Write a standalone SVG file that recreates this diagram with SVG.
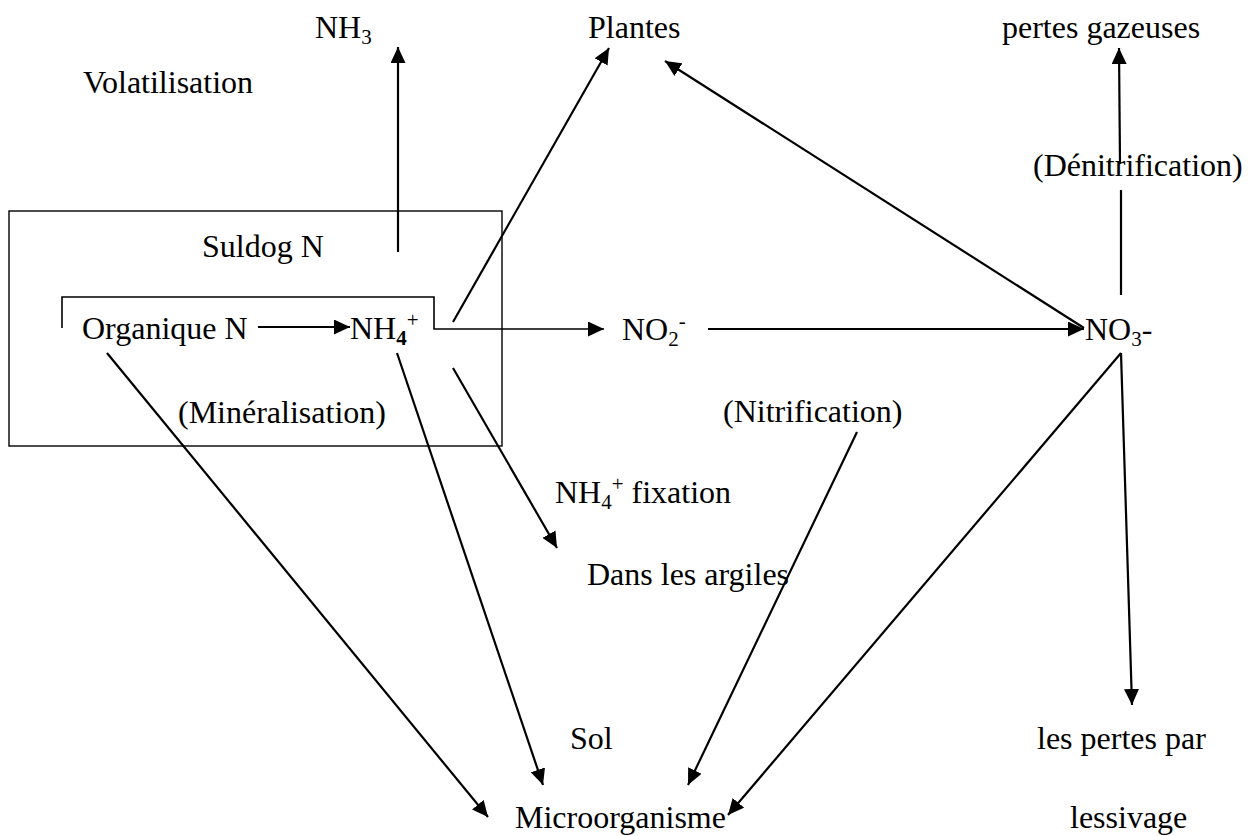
<svg xmlns="http://www.w3.org/2000/svg" width="1249" height="836" viewBox="0 0 1249 836">
<style>
text{font-family:"Liberation Serif","Times New Roman",serif;font-size:32px;fill:#000}
.sub{font-size:21px}
.c line,.c path{stroke:#000;stroke-width:2.2;fill:none}
.box{stroke:#000;stroke-width:1.4;fill:none}
</style>
<defs>
<marker id="ah" markerUnits="userSpaceOnUse" markerWidth="16" markerHeight="15" refX="16" refY="7.5" orient="auto">
<path d="M0,0 L16,7.5 L0,15 z" fill="#000"/>
</marker>
</defs>
<g id="soil-box">
<rect class="box" x="9" y="211" width="493" height="235"/>
</g>
<g class="c" id="connectors">
<path d="M62,328 V297 H434 V329 H604" marker-end="url(#ah)" style="stroke-width:1.6"/>
<line x1="398" y1="252" x2="398" y2="47" marker-end="url(#ah)"/>
<line x1="258" y1="327" x2="350" y2="327" marker-end="url(#ah)"/>
<line x1="453" y1="322" x2="609" y2="48" marker-end="url(#ah)"/>
<line x1="1084" y1="328" x2="665" y2="61" marker-end="url(#ah)"/>
<line x1="708" y1="329" x2="1084" y2="329" marker-end="url(#ah)"/>
<line x1="1121" y1="295" x2="1121" y2="190"/>
<line x1="1120" y1="164" x2="1119" y2="48" marker-end="url(#ah)"/>
<line x1="1121" y1="353" x2="1132" y2="705" marker-end="url(#ah)"/>
<line x1="1121" y1="353" x2="728" y2="815" marker-end="url(#ah)"/>
<line x1="857" y1="432" x2="688" y2="785" marker-end="url(#ah)"/>
<line x1="453" y1="368" x2="557" y2="548" marker-end="url(#ah)"/>
<line x1="397" y1="353" x2="543" y2="785" marker-end="url(#ah)"/>
<line x1="107" y1="353" x2="488" y2="817" marker-end="url(#ah)"/>
</g>
<g id="nh3"><text x="315" y="38">NH<tspan class="sub" dy="6">3</tspan></text></g>
<g id="plantes"><text x="588" y="38">Plantes</text></g>
<g id="pertes-gazeuses"><text x="1002" y="38">pertes gazeuses</text></g>
<g id="volatilisation"><text x="83" y="93">Volatilisation</text></g>
<g id="denitrification"><text x="1033" y="176">(Dénitrification)</text></g>
<g id="suldog"><text x="202" y="257">Suldog N</text></g>
<g id="organique"><text x="82" y="339">Organique N</text></g>
<g id="nh4"><text x="350" y="339">NH<tspan class="sub" dy="6" font-weight="bold">4</tspan><tspan class="sub" dy="-18">+</tspan></text></g>
<g id="no2"><text x="622" y="340">NO<tspan class="sub" dy="6">2</tspan><tspan class="sub" dy="-18">-</tspan></text></g>
<g id="no3"><text x="1085" y="340">NO<tspan class="sub" dy="6">3</tspan><tspan dy="-6">-</tspan></text></g>
<g id="mineralisation"><text x="178" y="423">(Minéralisation)</text></g>
<g id="nitrification"><text x="723" y="422">(Nitrification)</text></g>
<g id="fixation"><text x="555" y="503">NH<tspan class="sub" dy="6">4</tspan><tspan class="sub" dy="-18">+</tspan><tspan dy="12"> fixation</tspan></text></g>
<g id="argiles"><text x="587" y="585">Dans les argiles</text></g>
<g id="sol"><text x="570" y="749">Sol</text></g>
<g id="pertes-par"><text x="1037" y="749">les pertes par</text></g>
<g id="microorganisme"><text x="515" y="828">Microorganisme</text></g>
<g id="lessivage"><text x="1070" y="828">lessivage</text></g>
</svg>
